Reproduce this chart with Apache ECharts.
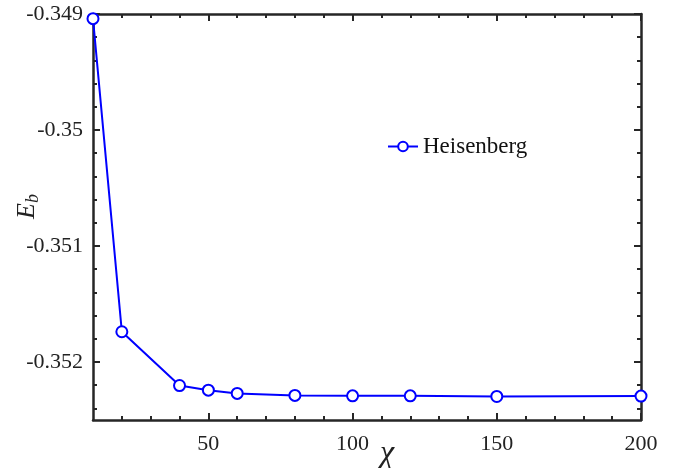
<!DOCTYPE html>
<html lang="en">
<head>
    <meta charset="UTF-8">
    <title>Eb vs chi</title>
    <script src="https://cdn.jsdelivr.net/npm/echarts@6.0.0/dist/echarts.min.js"></script>
    <style>
        * { padding: 0; margin: 0; }
        body { background: #fff; }
        #main { width: 687px; height: 468px; }
    </style>
</head>
<body>
    <div id="main"></div>
    <script>
        // data
        var chi = [10, 20, 40, 50, 60, 80, 100, 120, 150, 200];
        var eb = [-0.34904, -0.351739, -0.352203, -0.352243, -0.352271, -0.352288, -0.352292, -0.352292, -0.352297, -0.352294];
        var seriesName = 'Heisenberg';

        // ticks
        var xMajor = [50, 100, 150, 200];
        var yMajor = [-0.352, -0.351, -0.35, -0.349];
        var xMinor = [];
        for (var i = 20; i <= 190; i += 10) {
            if (i % 50 != 0) xMinor.push(i);
        }
        var yMinor = [];
        for (var k = -3524; k <= -3492; k += 2) {
            if (k % 10 != 0) yMinor.push(k / 10000);
        }

        var pts = [];
        for (var j = 0; j < chi.length; j++) {
            pts.push([chi[j], eb[j]]);
        }

        var axisColor = '#262626';
        var serif = '"Liberation Serif", "DejaVu Serif", serif';

        function makeAxis(pos, min, max, major, minor, isMajor, showLabel, margin) {
            return {
                type: 'value',
                position: pos,
                min: min,
                max: max,
                axisLine: { show: isMajor, onZero: false, lineStyle: { color: axisColor, width: 2.5 } },
                axisTick: {
                    show: true, inside: true, length: isMajor ? 7 : 4,
                    customValues: isMajor ? major : minor,
                    lineStyle: { color: axisColor, width: 2 }
                },
                axisLabel: {
                    show: showLabel,
                    customValues: major,
                    color: '#222',
                    fontFamily: serif,
                    fontSize: 22,
                    margin: margin || 10
                },
                splitLine: { show: false }
            };
        }

        var chart = echarts.init(document.getElementById('main'));
        chart.setOption({
            animation: false,
            backgroundColor: '#fff',
            grid: { left: 93, right: 46, top: 14, bottom: 48 },
            legend: {
                data: [seriesName],
                left: 382,
                top: 130,
                itemWidth: 30,
                itemHeight: 12,
                itemGap: 3,
                textStyle: { fontFamily: serif, fontSize: 23, color: '#111' }
            },
            xAxis: [
                makeAxis('bottom', 10, 200, xMajor, xMinor, true, true, 13),
                makeAxis('bottom', 10, 200, xMajor, xMinor, false, false),
                makeAxis('top', 10, 200, xMajor, xMinor, true, false),
                makeAxis('top', 10, 200, xMajor, xMinor, false, false)
            ],
            yAxis: [
                makeAxis('left', -0.3525, -0.349, yMajor, yMinor, true, true),
                makeAxis('left', -0.3525, -0.349, yMajor, yMinor, false, false),
                makeAxis('right', -0.3525, -0.349, yMajor, yMinor, true, false),
                makeAxis('right', -0.3525, -0.349, yMajor, yMinor, false, false)
            ],
            graphic: [
                {
                    type: 'text',
                    x: 380, y: 438,
                    style: { text: 'χ', font: 'italic 32px ' + serif, fill: '#222' }
                },
                {
                    type: 'text',
                    x: 13, y: 219,
                    rotation: Math.PI / 2,
                    style: {
                        text: '{e|E}{b|b}',
                        fill: '#222',
                        rich: {
                            e: { fontFamily: serif, fontStyle: 'italic', fontSize: 26, fill: '#222' },
                            b: { fontFamily: serif, fontStyle: 'italic', fontSize: 18, fill: '#222', padding: [11, 0, 0, 0] }
                        }
                    }
                }
            ],
            series: [{
                name: seriesName,
                type: 'line',
                xAxisIndex: 0,
                yAxisIndex: 0,
                data: pts,
                symbol: 'circle',
                symbolSize: 11,
                lineStyle: { color: '#0000ff', width: 2 },
                itemStyle: { color: '#ffffff', borderColor: '#0000ff', borderWidth: 2 }
            }]
        });
    </script>
</body>
</html>
